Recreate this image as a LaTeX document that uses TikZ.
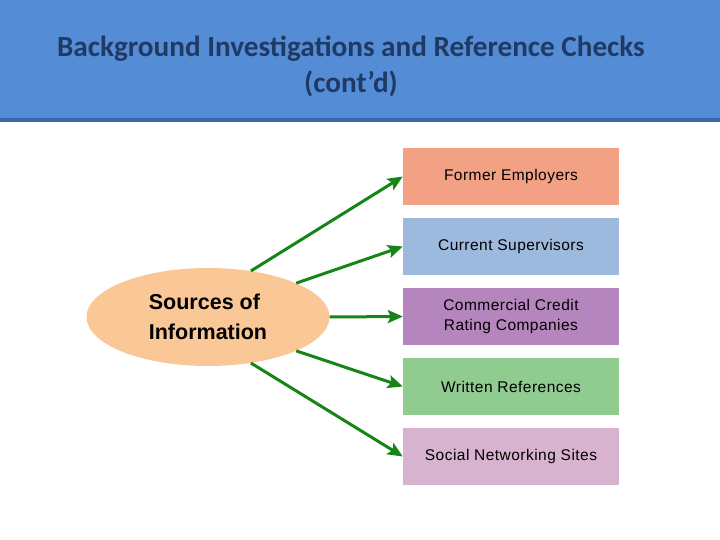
\documentclass[tikz,border=0pt]{standalone}
\usepackage{fontspec}
\setmainfont{Liberation Sans}
\newfontfamily\titlefont{Carlito}
\newfontfamily\boxfont[LetterSpace=3]{Liberation Sans}
\usepackage{xcolor}
\usetikzlibrary{arrows.meta,shapes.geometric}

\definecolor{headblue}{RGB}{84,141,213}
\definecolor{headline}{RGB}{58,104,166}
\definecolor{titlenavy}{RGB}{31,58,100}
\definecolor{srcfill}{RGB}{249,200,150}
\definecolor{arrgreen}{RGB}{22,132,22}
\definecolor{fillemp}{RGB}{243,161,132}
\definecolor{fillsup}{RGB}{157,185,222}
\definecolor{fillcred}{RGB}{181,134,190}
\definecolor{fillref}{RGB}{144,203,144}
\definecolor{fillsoc}{RGB}{216,179,207}

\tikzset{
  srcbox/.style={ellipse,fill=srcfill,minimum width=243pt,minimum height=98pt,
    inner sep=0pt,align=left,font=\bfseries\fontsize{21.5}{30}\selectfont},
  itembox/.style={rectangle,minimum width=216pt,minimum height=57pt,inner sep=0pt,
    align=center,font=\boxfont\fontsize{15.5}{20}\selectfont},
  arr/.style={draw=arrgreen,line width=3pt,-{Stealth[length=15pt,width=13pt,inset=3pt]}}
}

\begin{document}
\begin{tikzpicture}[x=1pt,y=-1pt]
            \useasboundingbox (0,0) rectangle (720,540);
            % Header band with title
            \fill[headblue] (0,0) rectangle (720,119);
            \fill[headline] (0,118) rectangle (720,122);
            \node[font=\titlefont\bfseries\fontsize{29.2}{36}\selectfont,text=titlenavy,align=center]
                (title) at (351,66.5) {Background Investigations and Reference Checks\\(cont’d)};
            % Central ellipse
            \node[srcbox] (src) at (208,317) {Sources of\\Information};
            % Boxes on the right
            \node[itembox,fill=fillemp] (emp) at (511,176.5) {Former Employers};
            \node[itembox,fill=fillsup] (sup) at (511,246.5) {Current Supervisors};
            \node[itembox,fill=fillcred] (cred) at (511,316.5) {Commercial Credit\\Rating Companies};
            \node[itembox,fill=fillref] (wref) at (511,386.5) {Written References};
            \node[itembox,fill=fillsoc] (soc) at (511,456.5) {Social Networking Sites};
            % Arrows from ellipse to boxes
            \draw[arr] (src.47.6) -- (emp.west);
            \draw[arr] (src.21.3) -- (sup.west);
            \draw[arr] (src.0) -- (cred.west);
            \draw[arr] (src.-21.3) -- (wref.west);
            \draw[arr] (src.-47.6) -- (soc.west);
        \end{tikzpicture}
\end{document}
